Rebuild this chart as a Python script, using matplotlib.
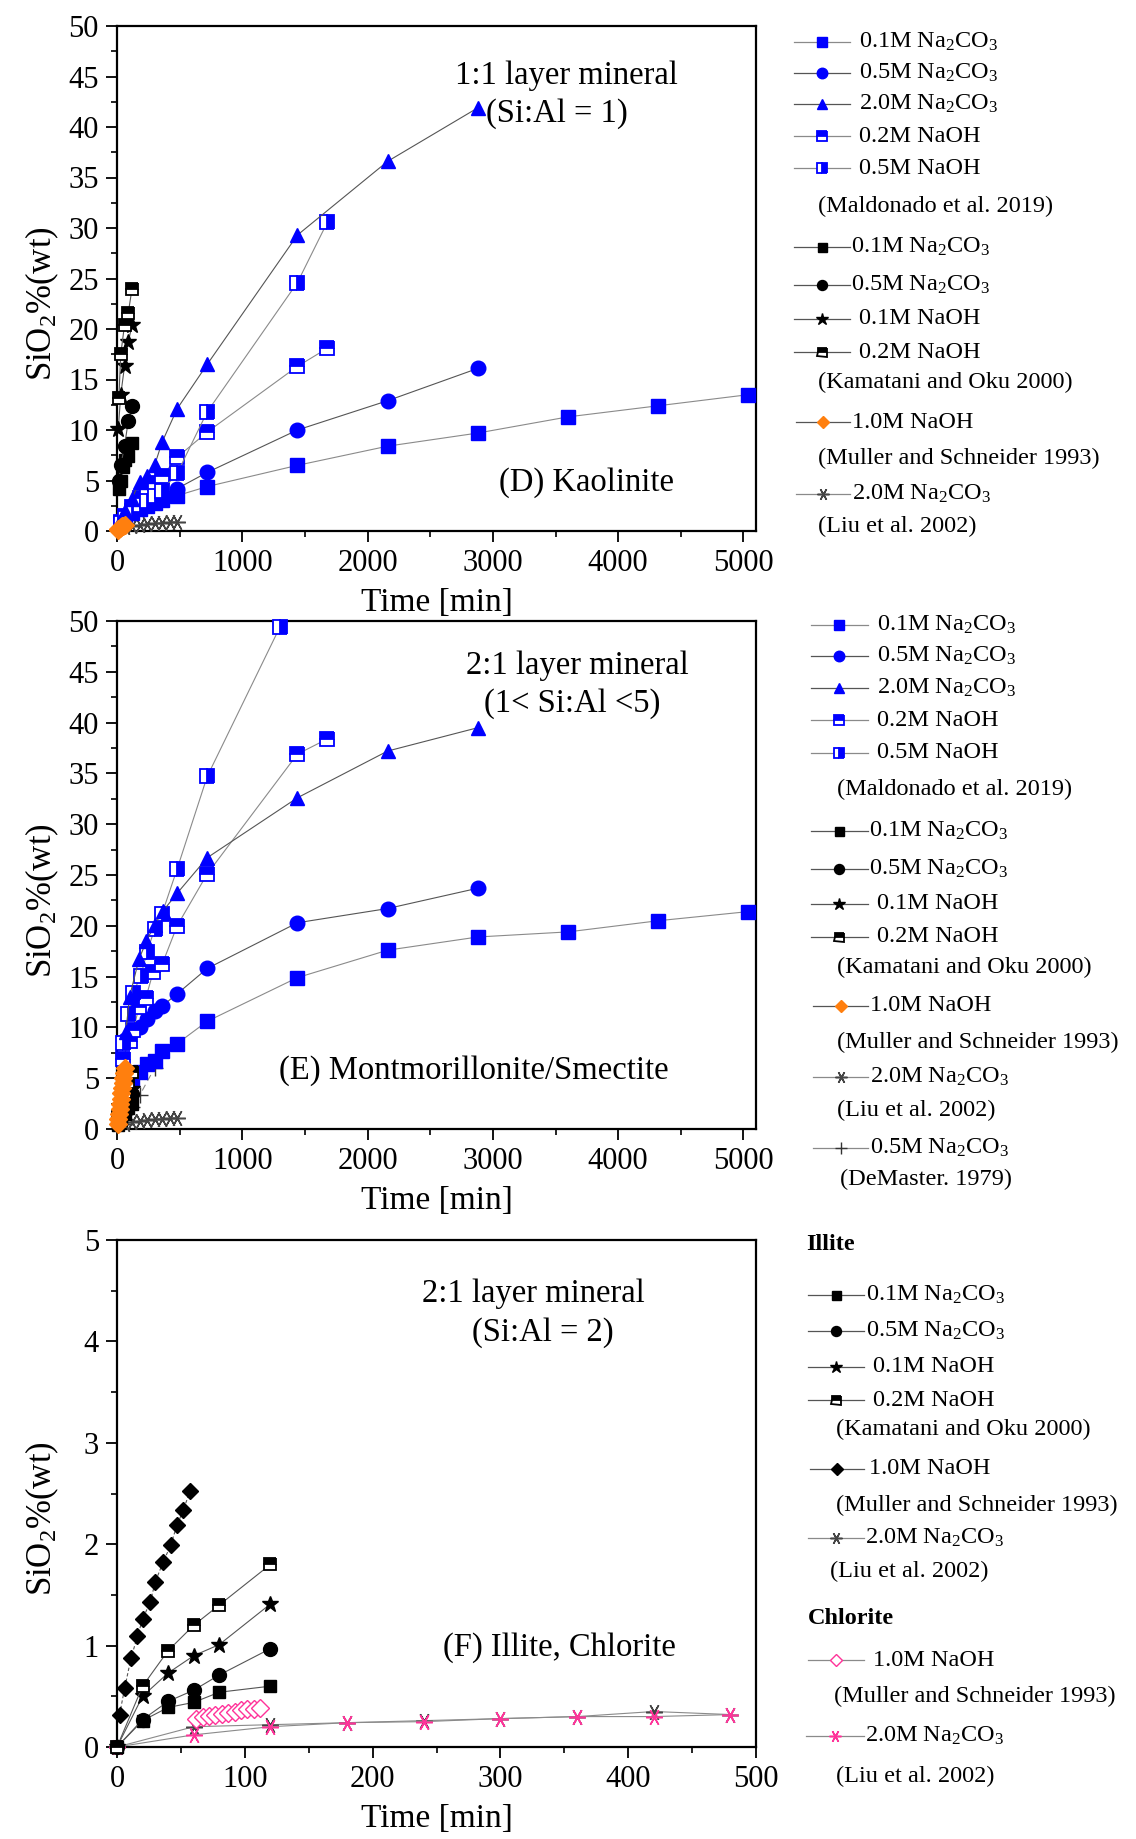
import matplotlib
matplotlib.use("Agg")
import matplotlib.pyplot as plt
from matplotlib.lines import Line2D
from matplotlib.ticker import MultipleLocator

plt.rcParams['font.family'] = ['Liberation Serif', 'DejaVu Serif']
plt.rcParams['mathtext.fontset'] = 'custom'
plt.rcParams['mathtext.rm'] = 'Liberation Serif'
plt.rcParams['mathtext.it'] = 'Liberation Serif:italic'
plt.rcParams['mathtext.bf'] = 'Liberation Serif:bold'

# ---------------- DATA ----------------
# Panel D : Kaolinite
D_mal01c_t = [30, 60, 120, 180, 240, 300, 360, 480, 720, 1440, 2160, 2880, 3600, 4320, 5040]
D_mal01c_v = [0.8, 1.2, 1.8, 2.2, 2.5, 2.8, 3.1, 3.5, 4.4, 6.5, 8.4, 9.7, 11.3, 12.4, 13.5]
D_mal05c_t = [30, 60, 120, 180, 240, 300, 360, 480, 720, 1440, 2160, 2880]
D_mal05c_v = [1.0, 1.5, 2.1, 2.5, 2.8, 3.2, 3.6, 4.2, 5.8, 10.0, 12.9, 16.1]
D_mal20c_t = [30, 60, 120, 180, 240, 300, 360, 480, 720, 1440, 2160, 2880]
D_mal20c_v = [1.2, 2.0, 3.2, 4.9, 5.4, 6.5, 8.8, 12.1, 16.5, 29.3, 36.6, 41.9]
D_mal02n_t = [30, 60, 120, 180, 240, 300, 360, 480, 720, 1440, 1680]
D_mal02n_v = [0.9, 1.5, 2.4, 3.3, 4.2, 4.8, 5.4, 7.3, 9.8, 16.3, 18.1]
D_mal05n_t = [30, 60, 120, 180, 240, 300, 360, 480, 720, 1440, 1680]
D_mal05n_v = [0.8, 1.3, 2.0, 2.6, 3.0, 3.5, 4.0, 5.7, 11.8, 24.6, 30.6]

D_kam01c_t = [15, 30, 45, 60, 90, 120]
D_kam01c_v = [4.2, 5.0, 6.3, 7.0, 7.4, 8.7]
D_kam05c_t = [15, 30, 60, 90, 120]
D_kam05c_v = [5.0, 6.5, 8.4, 10.9, 12.4]
D_kam01n_t = [10, 30, 60, 90, 120]
D_kam01n_v = [10.1, 13.5, 16.3, 18.7, 20.4]
D_kam02n_t = [15, 30, 60, 90, 120]
D_kam02n_v = [13.2, 17.5, 20.4, 21.6, 24.0]

D_mul10n_t = [5, 10, 20, 30, 40, 50, 60]
D_mul10n_v = [0.1, 0.2, 0.3, 0.4, 0.45, 0.5, 0.55]
D_liu20c_t = [60, 120, 180, 240, 300, 360, 420, 480]
D_liu20c_v = [0.4, 0.5, 0.6, 0.7, 0.75, 0.8, 0.85, 0.9]

# Panel E : Montmorillonite / Smectite
E_mal01c_t = [60, 120, 180, 240, 300, 360, 480, 720, 1440, 2160, 2880, 3600, 4320, 5040]
E_mal01c_v = [4.0, 4.9, 5.6, 6.4, 6.7, 7.7, 8.4, 10.6, 14.9, 17.6, 18.9, 19.4, 20.5, 21.4]
E_mal05c_t = [60, 120, 180, 240, 300, 360, 480, 720, 1440, 2160, 2880]
E_mal05c_v = [8.8, 9.6, 10.0, 10.8, 11.6, 12.1, 13.3, 15.8, 20.3, 21.7, 23.7]
E_mal20c_t = [70, 100, 175, 235, 300, 370, 480, 720, 1440, 2160, 2880]
E_mal20c_v = [9.5, 13.0, 16.7, 18.5, 20.1, 21.5, 23.2, 26.7, 32.6, 37.2, 39.5]
E_mal02n_t = [45, 100, 130, 175, 230, 290, 360, 480, 720, 1440, 1680]
E_mal02n_v = [6.9, 8.7, 9.7, 12.0, 12.9, 15.5, 16.2, 20.0, 25.1, 36.9, 38.4]
E_mal05n_t = [45, 90, 130, 190, 240, 300, 360, 480, 720, 1300]
E_mal05n_v = [8.5, 11.3, 13.4, 15.1, 17.4, 19.7, 21.2, 25.6, 34.7, 49.4]

E_kam_t = [10, 30, 60, 90, 120]
E_kam01c_v = [0.4, 0.9, 1.5, 2.1, 2.5]
E_kam05c_v = [0.6, 1.3, 2.2, 2.9, 3.4]
E_kam01n_v = [0.8, 1.6, 2.6, 3.3, 3.9]
E_kam02n_v = [1.2, 2.3, 3.6, 4.6, 5.6]

E_mul10n_t = [5, 10, 15, 20, 25, 30, 35, 40, 45, 50, 55, 60]
E_mul10n_v = [0.5, 1.0, 1.5, 2.0, 2.5, 3.0, 3.5, 4.0, 4.5, 5.0, 5.5, 6.0]
E_liu20c_t = [60, 120, 180, 240, 300, 360, 420, 480]
E_liu20c_v = [0.5, 0.7, 0.8, 0.9, 0.95, 1.0, 1.05, 1.1]
E_dem05c_t = [60, 120, 180, 300]
E_dem05c_v = [1.0, 2.2, 3.3, 6.0]

# Panel F : Illite, Chlorite
F_kam_t = [0, 20, 40, 60, 80, 120]
F_kam01c_v = [0, 0.26, 0.39, 0.44, 0.54, 0.60]
F_kam05c_v = [0, 0.27, 0.45, 0.56, 0.71, 0.97]
F_kam01n_v = [0, 0.50, 0.73, 0.90, 1.01, 1.41]
F_kam02n_v = [0, 0.60, 0.95, 1.20, 1.40, 1.80]
F_mulI_t = [2, 6, 11, 16, 20, 26, 30, 36, 42, 47, 52, 57]
F_mulI_v = [0.32, 0.58, 0.88, 1.09, 1.26, 1.43, 1.63, 1.82, 1.99, 2.19, 2.34, 2.52]
F_liu_t = [0, 60, 120, 180, 240, 300, 360, 420, 480]
F_liuI_v = [0, 0.20, 0.22, 0.24, 0.26, 0.28, 0.30, 0.35, 0.32]
F_liuC_v = [0, 0.12, 0.20, 0.24, 0.25, 0.28, 0.30, 0.30, 0.32]
F_mulC_t = [62, 67, 72, 77, 82, 87, 92, 97, 102, 107, 112]
F_mulC_v = [0.28, 0.30, 0.31, 0.32, 0.33, 0.34, 0.35, 0.36, 0.37, 0.37, 0.38]

NA2CO3 = 'Na$_2$CO$_3$'

# ---------------- STYLES ----------------
BLUE = '#0000ff'
ORANGE = '#ff7f0e'
PINK = '#ff3399'
GRAYL = '#8a8a8a'
GRAYD = '#555555'

def sty(marker, color, ms, line=GRAYL, **kw):
    d = dict(marker=marker, color=line, mfc=color, mec=color, ms=ms, lw=0.8)
    d.update(kw)
    return d

S_b01c = sty('s', BLUE, 9.5)
S_b05c = sty('o', BLUE, 10.5, line=GRAYD)
S_b20c = sty('^', BLUE, 10.5, line=GRAYD)
S_b02n = sty('s', BLUE, 9.5, fillstyle='top', mfcalt='white', mew=1.3)
S_b05n = sty('s', BLUE, 9.5, fillstyle='right', mfcalt='white', mew=1.3)
S_k01c = sty('s', 'black', 9, line=GRAYD)
S_k05c = sty('o', 'black', 10, line=GRAYD)
S_k01n = sty('*', 'black', 12, line=GRAYD)
S_k02n = sty('s', 'black', 9, line=GRAYD, fillstyle='top', mfcalt='white', mew=1.3)
S_mulO = sty('D', ORANGE, 9, line=GRAYD)
S_mulK = sty('D', 'black', 8.5, line=GRAYD)
S_liu = sty((6, 2, 90), '#444444', 12, line=GRAYL, mew=1.1)
S_liuP = sty((6, 2, 90), PINK, 12, line=GRAYL, mew=1.1)
S_mulC = sty('D', PINK, 9, line=GRAYL, mfc='white', mew=1.0)
S_dem = sty('+', '#333333', 12, line=GRAYL, mew=1.0, ls=(0, (6, 4)))

FIG_W, FIG_H = 1136, 1839
fig = plt.figure(figsize=(FIG_W / 100, FIG_H / 100), dpi=100)

AX_L, AX_R = 117, 756
panels_px = [(26, 531), (621, 1129), (1240, 1747)]

def make_ax(top, bot):
    ax = fig.add_axes([AX_L / FIG_W, 1 - bot / FIG_H, (AX_R - AX_L) / FIG_W, (bot - top) / FIG_H])
    for s in ax.spines.values():
        s.set_linewidth(1.6)
    ax.tick_params(which='major', direction='out', length=8, width=1.3, labelsize=22, pad=5,
                   top=False, right=False)
    ax.tick_params(which='minor', direction='out', length=4.5, width=1.2, top=False, right=False)
    ax.set_xlabel('Time [min]', fontsize=24, labelpad=7)
    ax.set_ylabel('SiO$_2$%(wt)', fontsize=25)
    ax.yaxis.set_label_coords(-0.088, 0.45)
    return ax

def plot(ax, t, v, s, z=3):
    ax.plot(t, v, zorder=z, clip_on=False, **s)

# ---- Panel D ----
axD = make_ax(*panels_px[0])
axD.set_xlim(0, 5100); axD.set_ylim(0, 50)
axD.xaxis.set_major_locator(MultipleLocator(1000)); axD.xaxis.set_minor_locator(MultipleLocator(500))
axD.yaxis.set_major_locator(MultipleLocator(5)); axD.yaxis.set_minor_locator(MultipleLocator(2.5))
plot(axD, D_liu20c_t, D_liu20c_v, S_liu)
plot(axD, D_mal01c_t, D_mal01c_v, S_b01c)
plot(axD, D_mal05c_t, D_mal05c_v, S_b05c)
plot(axD, D_mal02n_t, D_mal02n_v, S_b02n)
plot(axD, D_mal05n_t, D_mal05n_v, S_b05n)
plot(axD, D_mal20c_t, D_mal20c_v, S_b20c)
plot(axD, D_kam01c_t, D_kam01c_v, S_k01c)
plot(axD, D_kam05c_t, D_kam05c_v, S_k05c)
plot(axD, D_kam01n_t, D_kam01n_v, S_k01n)
plot(axD, D_kam02n_t, D_kam02n_v, S_k02n)
plot(axD, D_mul10n_t, D_mul10n_v, S_mulO, z=4)
axD.text(0.704, 0.901, '1:1 layer mineral', transform=axD.transAxes, fontsize=23.5, ha='center', va='center')
axD.text(0.689, 0.826, '(Si:Al = 1)', transform=axD.transAxes, fontsize=23.5, ha='center', va='center')
axD.text(0.734, 0.095, '(D) Kaolinite', transform=axD.transAxes, fontsize=23.5, ha='center', va='center')

# ---- Panel E ----
axE = make_ax(*panels_px[1])
axE.set_xlim(0, 5100); axE.set_ylim(0, 50)
axE.xaxis.set_major_locator(MultipleLocator(1000)); axE.xaxis.set_minor_locator(MultipleLocator(500))
axE.yaxis.set_major_locator(MultipleLocator(5)); axE.yaxis.set_minor_locator(MultipleLocator(2.5))
plot(axE, E_liu20c_t, E_liu20c_v, S_liu)
plot(axE, E_dem05c_t, E_dem05c_v, S_dem)
plot(axE, E_mal01c_t, E_mal01c_v, S_b01c)
plot(axE, E_mal05c_t, E_mal05c_v, S_b05c)
plot(axE, E_mal02n_t, E_mal02n_v, S_b02n)
plot(axE, E_mal05n_t, E_mal05n_v, S_b05n)
plot(axE, E_mal20c_t, E_mal20c_v, S_b20c)
plot(axE, E_kam_t, E_kam01c_v, S_k01c)
plot(axE, E_kam_t, E_kam05c_v, S_k05c)
plot(axE, E_kam_t, E_kam01n_v, S_k01n)
plot(axE, E_kam_t, E_kam02n_v, S_k02n)
plot(axE, E_mul10n_t, E_mul10n_v, S_mulO, z=4)
axE.text(0.721, 0.911, '2:1 layer mineral', transform=axE.transAxes, fontsize=23.5, ha='center', va='center')
axE.text(0.712, 0.838, '(1< Si:Al <5)', transform=axE.transAxes, fontsize=23.5, ha='center', va='center')
axE.text(0.558, 0.114, '(E) Montmorillonite/Smectite', transform=axE.transAxes, fontsize=23.5, ha='center', va='center')

# ---- Panel F ----
axF = make_ax(*panels_px[2])
axF.set_xlim(0, 500); axF.set_ylim(0, 5)
axF.xaxis.set_major_locator(MultipleLocator(100)); axF.xaxis.set_minor_locator(MultipleLocator(50))
axF.yaxis.set_major_locator(MultipleLocator(1)); axF.yaxis.set_minor_locator(MultipleLocator(0.5))
plot(axF, F_liu_t, F_liuI_v, S_liu)
plot(axF, F_liu_t, F_liuC_v, S_liuP)
plot(axF, F_mulC_t, F_mulC_v, S_mulC)
plot(axF, F_kam_t, F_kam01c_v, S_k01c)
plot(axF, F_kam_t, F_kam05c_v, S_k05c)
plot(axF, F_kam_t, F_kam01n_v, S_k01n)
plot(axF, F_kam_t, F_kam02n_v, S_k02n)
plot(axF, F_mulI_t, F_mulI_v, dict(S_mulK, ls=(0, (3, 2))))
axF.text(0.651, 0.893, '2:1 layer mineral', transform=axF.transAxes, fontsize=23.5, ha='center', va='center')
axF.text(0.666, 0.818, '(Si:Al = 2)', transform=axF.transAxes, fontsize=23.5, ha='center', va='center')
axF.text(0.693, 0.197, '(F) Illite, Chlorite', transform=axF.transAxes, fontsize=23.5, ha='center', va='center')

# ---------------- LEGENDS (figure pixel layout) ----------------
def fx(x):
    return x / FIG_W

def fy(y):
    return 1 - y / FIG_H

LEG_FS = 17.5

def leg_entry(x0, x1, y, s, label, xt):
    st = dict(s)
    st['ms'] = st['ms'] * 0.72
    st.pop('ls', None)
    line_color = st.pop('color')
    fig.add_artist(Line2D([fx(x0), fx(x1)], [fy(y), fy(y)], color=line_color, lw=0.9,
                          transform=fig.transFigure))
    fig.add_artist(Line2D([fx((x0 + x1) / 2)], [fy(y)], ls='none', color=line_color,
                          transform=fig.transFigure, **{k: v for k, v in st.items() if k != 'lw'}))
    fig.text(fx(xt), fy(y), label, fontsize=LEG_FS, va='center', ha='left')

def leg_text(x, y, label, bold=False):
    fig.text(fx(x), fy(y), label, fontsize=LEG_FS, va='center', ha='left',
             fontweight='bold' if bold else 'normal')

# Legend D
lx0, lx1 = 794, 850
leg_entry(lx0, lx1, 42, S_b01c, '0.1M ' + NA2CO3, 859)
leg_entry(lx0, lx1, 73, S_b05c, '0.5M ' + NA2CO3, 859)
leg_entry(lx0, lx1, 104, S_b20c, '2.0M ' + NA2CO3, 859)
leg_entry(lx0, lx1, 136, S_b02n, '0.2M NaOH', 859)
leg_entry(lx0, lx1, 168, S_b05n, '0.5M NaOH', 859)
leg_text(818, 206, '(Maldonado et al. 2019)')
leg_entry(lx0, lx1, 247, S_k01c, '0.1M ' + NA2CO3, 851)
leg_entry(lx0, lx1, 285, S_k05c, '0.5M ' + NA2CO3, 851)
leg_entry(lx0, lx1, 319, S_k01n, '0.1M NaOH', 859)
leg_entry(lx0, lx1, 352, S_k02n, '0.2M NaOH', 859)
leg_text(818, 382, '(Kamatani and Oku 2000)')
leg_entry(lx0 + 2, lx1, 422, S_mulO, '1.0M NaOH', 852)
leg_text(818, 458, '(Muller and Schneider 1993)')
leg_entry(lx0 + 2, lx1, 494, S_liu, '2.0M ' + NA2CO3, 852)
leg_text(818, 526, '(Liu et al. 2002)')

# Legend E
ex0, ex1 = 811, 868
leg_entry(ex0, ex1, 625, S_b01c, '0.1M ' + NA2CO3, 877)
leg_entry(ex0, ex1, 656, S_b05c, '0.5M ' + NA2CO3, 877)
leg_entry(ex0, ex1, 688, S_b20c, '2.0M ' + NA2CO3, 877)
leg_entry(ex0, ex1, 720, S_b02n, '0.2M NaOH', 877)
leg_entry(ex0, ex1, 753, S_b05n, '0.5M NaOH', 877)
leg_text(837, 789, '(Maldonado et al. 2019)')
leg_entry(ex0, ex1, 831, S_k01c, '0.1M ' + NA2CO3, 869)
leg_entry(ex0, ex1, 869, S_k05c, '0.5M ' + NA2CO3, 869)
leg_entry(ex0, ex1, 904, S_k01n, '0.1M NaOH', 877)
leg_entry(ex0, ex1, 937, S_k02n, '0.2M NaOH', 877)
leg_text(837, 967, '(Kamatani and Oku 2000)')
leg_entry(ex0 + 2, ex1, 1006, S_mulO, '1.0M NaOH', 870)
leg_text(837, 1042, '(Muller and Schneider 1993)')
leg_entry(ex0 + 2, ex1, 1077, S_liu, '2.0M ' + NA2CO3, 870)
leg_text(837, 1110, '(Liu et al. 2002)')
leg_entry(ex0 + 2, ex1, 1148, S_dem, '0.5M ' + NA2CO3, 870)
leg_text(840, 1179, '(DeMaster. 1979)')

# Legend F
gx0, gx1 = 808, 864
leg_text(806, 1244, 'Illite', bold=True)
leg_entry(gx0, gx1, 1295, S_k01c, '0.1M ' + NA2CO3, 866)
leg_entry(gx0, gx1, 1331, S_k05c, '0.5M ' + NA2CO3, 866)
leg_entry(gx0, gx1, 1367, S_k01n, '0.1M NaOH', 873)
leg_entry(gx0, gx1, 1400, S_k02n, '0.2M NaOH', 873)
leg_text(836, 1429, '(Kamatani and Oku 2000)')
leg_entry(gx0 + 2, gx1, 1469, S_mulK, '1.0M NaOH', 869)
leg_text(836, 1505, '(Muller and Schneider 1993)')
leg_entry(gx0, gx1, 1538, S_liu, '2.0M ' + NA2CO3, 865)
leg_text(830, 1571, '(Liu et al. 2002)')
leg_text(808, 1618, 'Chlorite', bold=True)
leg_entry(gx0, gx1, 1660, S_mulC, '1.0M NaOH', 873)
leg_text(834, 1696, '(Muller and Schneider 1993)')
leg_entry(gx0 - 2, gx1, 1736, S_liuP, '2.0M ' + NA2CO3, 865)
leg_text(836, 1776, '(Liu et al. 2002)')

fig.savefig('out.png', dpi=100)
